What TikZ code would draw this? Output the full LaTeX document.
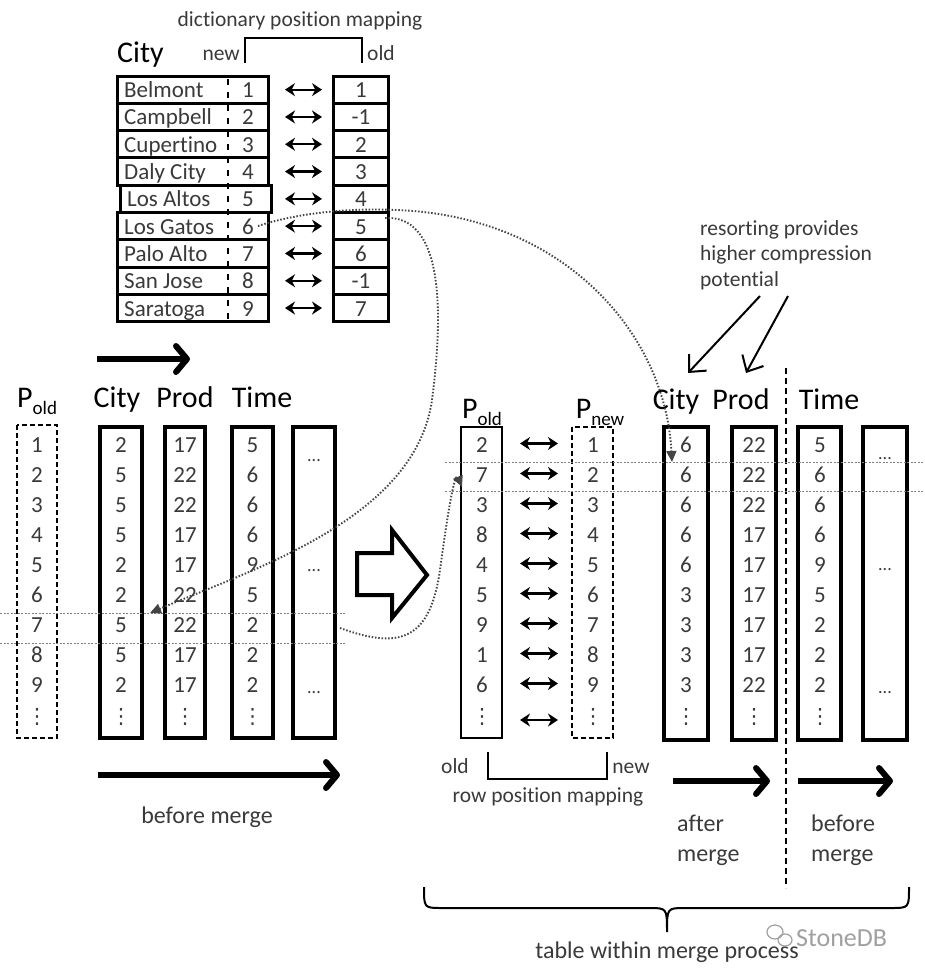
\documentclass[tikz,border=0pt]{standalone}
\usepackage{fontspec}
\setmainfont{Carlito}[Ligatures=NoCommon]
\newfontfamily\dejavu{DejaVu Sans}
\usetikzlibrary{arrows.meta}
\definecolor{numgray}{HTML}{3A3A3A}
\definecolor{dotgray}{HTML}{444444}
\definecolor{wmgray}{HTML}{A0A0A0}
\begin{document}
\begin{tikzpicture}[x=1pt,y=-1pt,
  num/.style={font=\fontsize{23}{23}\selectfont, text=numgray, inner sep=0pt},
  hdr/.style={font=\fontsize{30}{30}\selectfont, inner sep=0pt},
  lbl/.style={font=\fontsize{21.5}{21.5}\selectfont, text=numgray, inner sep=0pt},
  blbl/.style={font=\fontsize{24}{24}\selectfont, text=numgray, inner sep=0pt},
  vd/.style={font=\dejavu\fontsize{21}{21}\selectfont, text=numgray, inner sep=0pt},
  dots/.style={font=\fontsize{18}{18}\selectfont, text=numgray, inner sep=0pt},
  thickbox/.style={line width=3.5pt},
  thinbox/.style={line width=1.5pt},
  dbox/.style={line width=1.5pt, dash pattern=on 5pt off 3pt},
  dictbox/.style={line width=3pt},
  dbl/.style={line width=2.2pt, <->, >={Stealth[length=10pt,width=13pt]}},
  bigarrow/.style={line width=6pt, -{Straight Barb[length=11pt,width=26pt,round]}},
  thinarrow/.style={line width=2pt, -{Straight Barb[length=13pt,width=24pt]}},
  dotcurve/.style={line width=1.9pt, dotgray, dash pattern=on 1.5pt off 1.8pt, -{Triangle[length=11pt,width=10pt]}},
  hline/.style={line width=1pt, gray, dash pattern=on 2pt off 1.5pt},
  bracket/.style={line width=1.5pt},
]
\useasboundingbox[fill=white] (0,0) rectangle (925,974);

% ---------------- dictionary ----------------
\node[lbl, anchor=base] (dictlbl) at (300,27) {dictionary position mapping};
\node[hdr, anchor=base west] (dcity) at (117,63) {City};
\node[lbl, anchor=base east] (dnew) at (240,60) {new};
\node[lbl, anchor=base west] (dold) at (367,60) {old};
\draw[bracket] (245,63) -- (245,38) -- (362,38) -- (362,63);

\foreach \nm/\nw/\od [count=\i from 0] in {Belmont/1/1,Campbell/2/-1,Cupertino/3/2,Daly City/4/3,Los Altos/5/4,Los Gatos/6/5,Palo Alto/7/6,San Jose/8/-1,Saratoga/9/7}{
  \pgfmathsetmacro\yt{76+27.3*\i}
  \pgfmathsetmacro\yb{\yt+27.3}
  \pgfmathsetmacro\yc{\yt+13.65}
  \pgfmathsetmacro\sh{(\i==4)*3}
  \draw[dictbox] (117+\sh,\yt) rectangle (268+\sh,\yb);
  \draw[dictbox] (333,\yt) rectangle (388,\yb);
  \node[num, anchor=base west] (dn\i) at (124+\sh,\yc+8) {\nm};
  \node[num, anchor=base] (dv\i) at (248,\yc+8) {\nw};
  \node[num, anchor=base] (do\i) at (361,\yc+8) {\od};
  \draw[dbl] (285,\yc) -- (322,\yc);
}
\draw[line width=2pt, dash pattern=on 6pt off 7pt] (228,79) -- (228,320);

% ---------------- left table (before merge) ----------------
\draw[bigarrow] (97,359) -- (190,359);
\node[hdr, anchor=base west] (lhp) at (17,407) {P\raisebox{-7pt}{\fontsize{19}{19}\selectfont old}};
\node[hdr, anchor=base] (lhc) at (117,407) {City};
\node[hdr, anchor=base] (lhr) at (185,407) {Prod};
\node[hdr, anchor=base] (lht) at (262,407) {Time};

\draw[dbox] (17,425) rectangle (57,738);
\draw[thickbox] (100,427) rectangle (142,738);
\draw[thickbox] (165,427) rectangle (205,738);
\draw[thickbox] (232,427) rectangle (273,738);
\draw[thickbox] (293,427) rectangle (335,738);

% ---------------- middle ----------------
\draw[line width=4pt, line join=miter] (357,553) -- (392,553) -- (392,530) -- (427,575) -- (392,618) -- (392,595) -- (357,595) -- cycle;
\node[hdr, anchor=base] (mhp) at (482,418) {P\raisebox{-7pt}{\fontsize{19}{19}\selectfont old}};
\node[hdr, anchor=base] (mhn) at (600,418) {P\raisebox{-7pt}{\fontsize{19}{19}\selectfont new}};
\draw[thinbox] (461,427) rectangle (502,738);
\draw[dbox] (572,427) rectangle (613,738);

% ---------------- right (after merge) ----------------
\node[lbl, anchor=base west] (rs1) at (700,235) {resorting provides};
\node[lbl, anchor=base west] (rs2) at (700,260.5) {higher compression};
\node[lbl, anchor=base west] (rs3) at (700,286) {potential};
\coordinate (ra1s) at (760,296);
\coordinate (ra2s) at (788,296);
\coordinate (ra1e) at (688,373);
\coordinate (ra2e) at (746,373);
\draw[thinarrow] (ra1s) -- (ra1e);
\draw[thinarrow] (ra2s) -- (ra2e);

\node[hdr, anchor=base] (rhc) at (676,409) {City};
\node[hdr, anchor=base] (rhr) at (741,409) {Prod};
\node[hdr, anchor=base] (rht) at (829,409) {Time};
\draw[thickbox] (664,427) rectangle (708,740);
\draw[thickbox] (732,427) rectangle (776,740);
\draw[thickbox] (798,427) rectangle (841,740);
\draw[thickbox] (863,427) rectangle (907,740);
\draw[line width=1.5pt, dash pattern=on 6pt off 4pt] (786,368) -- (786,888);

% ---------------- rows of values ----------------
\foreach \a/\b/\c/\d/\e/\f/\g/\h/\k [count=\j from 0] in {
  1/2/17/5/2/1/6/22/5,
  2/5/22/6/7/2/6/22/6,
  3/5/22/6/3/3/6/22/6,
  4/5/17/6/8/4/6/17/6,
  5/2/17/9/4/5/6/17/9,
  6/2/22/5/5/6/3/17/5,
  7/5/22/2/9/7/3/17/2,
  8/5/17/2/1/8/3/17/2,
  9/2/17/2/6/9/3/22/2}{
  \pgfmathsetmacro\yb{452.5+30*\j}
  \node[num,anchor=base] (lp\j) at (37,\yb) {\a};
  \node[num,anchor=base] (lc\j) at (121,\yb) {\b};
  \node[num,anchor=base] (lr\j) at (185,\yb) {\c};
  \node[num,anchor=base] (lt\j) at (252.5,\yb) {\d};
  \node[num,anchor=base] (mp\j) at (482,\yb) {\e};
  \node[num,anchor=base] (mn\j) at (593,\yb) {\f};
  \node[num,anchor=base] (rc\j) at (686,\yb) {\g};
  \node[num,anchor=base] (rr\j) at (754,\yb) {\h};
  \node[num,anchor=base] (rt\j) at (820,\yb) {\k};
  \draw[dbl] (520,\yb-9) -- (558,\yb-9);
}
\draw[dbl] (520,720) -- (558,720);
\foreach \x/\n in {37/lp,121/lc,185/lr,252.5/lt,482/mp,593/mn,686/rc,754/rr,820/rt}{
  \node[vd] (\n9) at (\x,717) {⋮};
}
\node[dots] (ld1) at (314,461) {...};
\node[dots] (ld2) at (314,571) {...};
\node[dots] (ld3) at (314,693) {...};
\node[dots] (rd1) at (885,459) {...};
\node[dots] (rd2) at (885,570) {...};
\node[dots] (rd3) at (885,693) {...};

% ---------------- dotted guide lines ----------------
\draw[hline] (0,613) -- (345,613);
\draw[hline] (0,643) -- (345,643);
\draw[hline] (445,462) -- (925,462);
\draw[hline] (445,491) -- (925,491);

% ---------------- dotted curves ----------------
\coordinate (ca0) at (258,226);
\coordinate (ca1) at (672,462);
\draw[dotcurve] (ca0) .. controls (300,212) and (355,208) .. (395,210) .. controls (560,215) and (665,330) .. (ca1);
\coordinate (cb0) at (385,218);
\coordinate (cb1) at (150,613);
\draw[dotcurve] (cb0) .. controls (440,215) and (445,300) .. (432,400) .. controls (415,520) and (250,570) .. (cb1);
\coordinate (cc0) at (340,628);
\coordinate (cc1) at (462,487);
\draw[dotcurve] (cc0) .. controls (400,650) and (430,640) .. (440,570) .. controls (448,510) and (455,470) .. (cc1);

% ---------------- bottom arrows and labels ----------------
\draw[bigarrow] (98,775) -- (340,775);
\node[blbl, anchor=base] (bm) at (207,823) {before merge};

\node[lbl, anchor=base] (rold) at (455,773) {old};
\node[lbl, anchor=base] (rnew) at (631,773) {new};
\draw[bracket] (488,752) -- (488,779) -- (607,779) -- (607,752);
\node[lbl, anchor=base] (rpm) at (548,802) {row position mapping};

\draw[bigarrow] (673,781) -- (770,781);
\draw[bigarrow] (798,781) -- (893,781);
\node[blbl, anchor=base west] (am1) at (677,831) {after};
\node[blbl, anchor=base west] (am2) at (677,861) {merge};
\node[blbl, anchor=base west] (bm1) at (811,831) {before};
\node[blbl, anchor=base west] (bm2) at (811,861) {merge};

\draw[line width=2pt] (424,887) .. controls (424,908) .. (442,908) -- (649,908) .. controls (667,908) .. (667,932) .. controls (667,908) .. (685,908) -- (891,908) .. controls (909,908) .. (909,887);
\node[blbl, anchor=base] (tw) at (667,958) {table within merge process};

% watermark
\draw[wmgray, line width=1.2pt] (775,932) ellipse (8 and 7);
\draw[wmgray, line width=1.2pt] (785,940) ellipse (7 and 6);
\node[font=\fontsize{26}{26}\selectfont, text=wmgray, anchor=base west, inner sep=0pt] (wm) at (796,946) {StoneDB};
\end{tikzpicture}
\end{document}
